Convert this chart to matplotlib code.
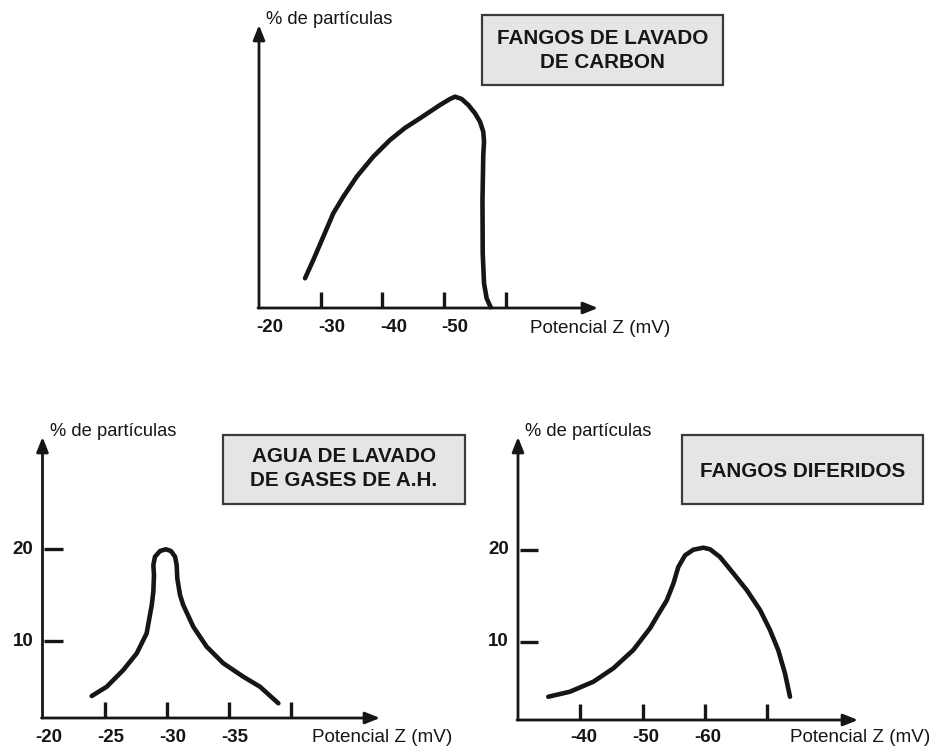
import matplotlib
matplotlib.use('Agg')
import matplotlib.pyplot as plt
from matplotlib.patches import Rectangle
from matplotlib.transforms import offset_copy

plt.rcParams['font.family'] = ['Liberation Sans', 'DejaVu Sans']

W, H = 936, 751
INK = '#161616'

# ---------------- data ----------------
y_axis_label = "% de partículas"
x_axis_label = "Potencial Z (mV)"

# Top panel: FANGOS DE LAVADO DE CARBON
top_title = ["FANGOS DE LAVADO", "DE CARBON"]
top_x = [-27.46, -28.80, -30.42, -32.04, -33.66, -35.83, -38.52, -41.23, -43.66, -46.09,
         -47.71, -49.34, -50.96, -51.77, -52.85, -53.92, -55.01, -55.82, -56.35, -56.47,
         -56.35, -56.22, -56.26, -56.47, -56.90, -57.55]
top_y = [3.23, 5.22, 7.75, 10.29, 12.09, 14.27, 16.45, 18.26, 19.57, 20.62,
         21.34, 22.07, 22.72, 22.97, 22.72, 22.07, 21.16, 20.25, 19.16, 18.08,
         16.63, 11.74, 5.95, 2.68, 1.05, 0.08]
top_ticks = [-30, -40, -50, -60]
top_tick_labels = ["-20", "-30", "-40", "-50"]
top_tick_label_vals = [-20, -30, -40, -50]

# Bottom-left panel: AGUA DE LAVADO DE GASES DE A.H.
bl_title = ["AGUA DE LAVADO", "DE GASES DE A.H."]
bl_x = [-23.97, -25.18, -26.52, -27.60, -28.40, -28.81, -28.94, -28.99, -28.94, -29.07,
        -29.48, -29.94, -30.36, -30.69, -30.82, -30.87, -31.09, -31.35, -32.16, -33.24,
        -34.58, -36.19, -37.54, -39.02]
bl_y = [4.02, 5.03, 6.85, 8.66, 10.84, 13.91, 15.36, 17.17, 18.26, 19.16,
        19.78, 19.97, 19.78, 19.16, 18.26, 16.81, 15.00, 13.91, 11.55, 9.38,
        7.58, 6.12, 5.03, 3.23]
bl_ticks = [-25, -30, -35, -40]
bl_tick_labels = ["-20", "-25", "-30", "-35"]
bl_tick_label_vals = [-20, -25, -30, -35]

# Bottom-right panel: FANGOS DIFERIDOS
br_title = ["FANGOS DIFERIDOS"]
br_x = [-34.86, -38.35, -42.09, -45.30, -48.51, -51.19, -52.26, -53.87, -54.93, -55.73,
        -56.81, -58.14, -59.74, -60.82, -62.42, -64.56, -66.71, -68.85, -70.45, -71.78,
        -72.86, -73.66]
br_y = [4.05, 4.60, 5.68, 7.14, 9.13, 11.49, 12.72, 14.52, 16.33, 18.15,
        19.42, 20.03, 20.25, 20.08, 19.24, 17.47, 15.65, 13.48, 11.30, 9.10,
        6.57, 4.05]
br_ticks = [-40, -50, -60, -70]
br_tick_labels = ["-40", "-50", "-60"]
br_tick_label_vals = [-40, -50, -60]

y_ticks = [10, 20]
y_tick_labels = ["10", "20"]

# ---------------- drawing ----------------
fig = plt.figure(figsize=(W / 100, H / 100), dpi=100)
fig.patch.set_facecolor('white')


def fx(px):
    return px / W


def fy(py):
    return 1 - py / H


def panel(origin_px, x0, ppx, y0_py, ppy, axis_py, tip_py, tip_px,
          xs, ys, ticks, tlabels, tvals, label_py, label_dx,
          yticks=None, ylabels=None):
    ax = fig.add_axes([0, 0, 1, 1])
    ax.set_axis_off()
    ax.patch.set_alpha(0)

    def xv(px):
        return x0 - (px - origin_px) / ppx

    def yv(py):
        return (y0_py - py) / ppy

    ax.set_xlim(xv(0), xv(W))
    ax.set_ylim(yv(H), yv(0))
    ya = yv(axis_py)
    arrow = dict(arrowstyle='-|>,head_length=0.55,head_width=0.22', lw=2.0,
                 color=INK, shrinkA=0, shrinkB=0, mutation_scale=16)
    ax.annotate('', xy=(x0, yv(tip_py)), xytext=(x0, ya), arrowprops=arrow)
    ax.annotate('', xy=(xv(tip_px), ya), xytext=(x0 + 1 / ppx, ya), arrowprops=arrow)

    for t in ticks:
        ax.plot([t, t], [ya, ya + 16 / ppy], lw=2.4, color=INK, solid_capstyle='butt')

    ax.plot(xs, ys, lw=3.3, color=INK, solid_joinstyle='round', solid_capstyle='round')

    tr = offset_copy(ax.transData, fig=fig, x=label_dx, y=0, units='dots')
    for v, lab in zip(tvals, tlabels):
        ax.text(v, yv(label_py), lab, transform=tr, ha='center', va='center',
                fontsize=13.5, fontweight='bold', color=INK)

    if yticks is not None:
        ytr = offset_copy(ax.transData, fig=fig, x=-9, y=0, units='dots')
        for v, lab in zip(yticks, ylabels):
            ax.plot([x0 - 2 / ppx, x0 - 20 / ppx], [v, v], lw=2.4, color=INK,
                    solid_capstyle='butt')
            ax.text(x0, v, lab, transform=ytr, ha='right', va='center',
                    fontsize=13.5, fontweight='bold', color=INK)

    fig.text(fx(origin_px + 7), fy(tip_py - 5), y_axis_label, ha='left', va='center',
             fontsize=13.2, color=INK)
    fig.text(fx(tip_px + 2), fy(label_py), x_axis_label, ha='center', va='center',
             fontsize=13.6, color=INK)
    return ax


def title_box(x1, y1, x2, y2, lines, line_pys):
    fig.add_artist(Rectangle((fx(x1), fy(y2)), (x2 - x1) / W, (y2 - y1) / H,
                             transform=fig.transFigure, facecolor='#e5e5e5',
                             edgecolor='#3a3a3a', lw=1.6, zorder=2))
    for line, py in zip(lines, line_pys):
        fig.text(fx((x1 + x2) / 2), fy(py), line, ha='center', va='center',
                 fontsize=14.9, fontweight='bold', color=INK, zorder=3)


# Top panel
panel(origin_px=259, x0=-20, ppx=6.17, y0_py=308, ppy=9.2, axis_py=308,
      tip_py=25, tip_px=598, xs=top_x, ys=top_y, ticks=top_ticks,
      tlabels=top_tick_labels, tvals=top_tick_label_vals, label_py=328, label_dx=11)
title_box(482, 15, 723, 85, top_title, [39, 62])

# Bottom-left panel
panel(origin_px=42.5, x0=-20, ppx=12.4, y0_py=733, ppy=9.2, axis_py=718,
      tip_py=437, tip_px=380, xs=bl_x, ys=bl_y, ticks=bl_ticks,
      tlabels=bl_tick_labels, tvals=bl_tick_label_vals, label_py=738, label_dx=6,
      yticks=y_ticks, ylabels=y_tick_labels)
title_box(223, 435, 465, 504, bl_title, [457, 480])

# Bottom-right panel
panel(origin_px=518, x0=-30, ppx=6.23, y0_py=734, ppy=9.2, axis_py=720,
      tip_py=437, tip_px=858, xs=br_x, ys=br_y, ticks=br_ticks,
      tlabels=br_tick_labels, tvals=br_tick_label_vals, label_py=738, label_dx=3,
      yticks=y_ticks, ylabels=y_tick_labels)
title_box(682, 435, 923, 504, br_title, [471])

fig.savefig('out.png', dpi=100, facecolor='white')
